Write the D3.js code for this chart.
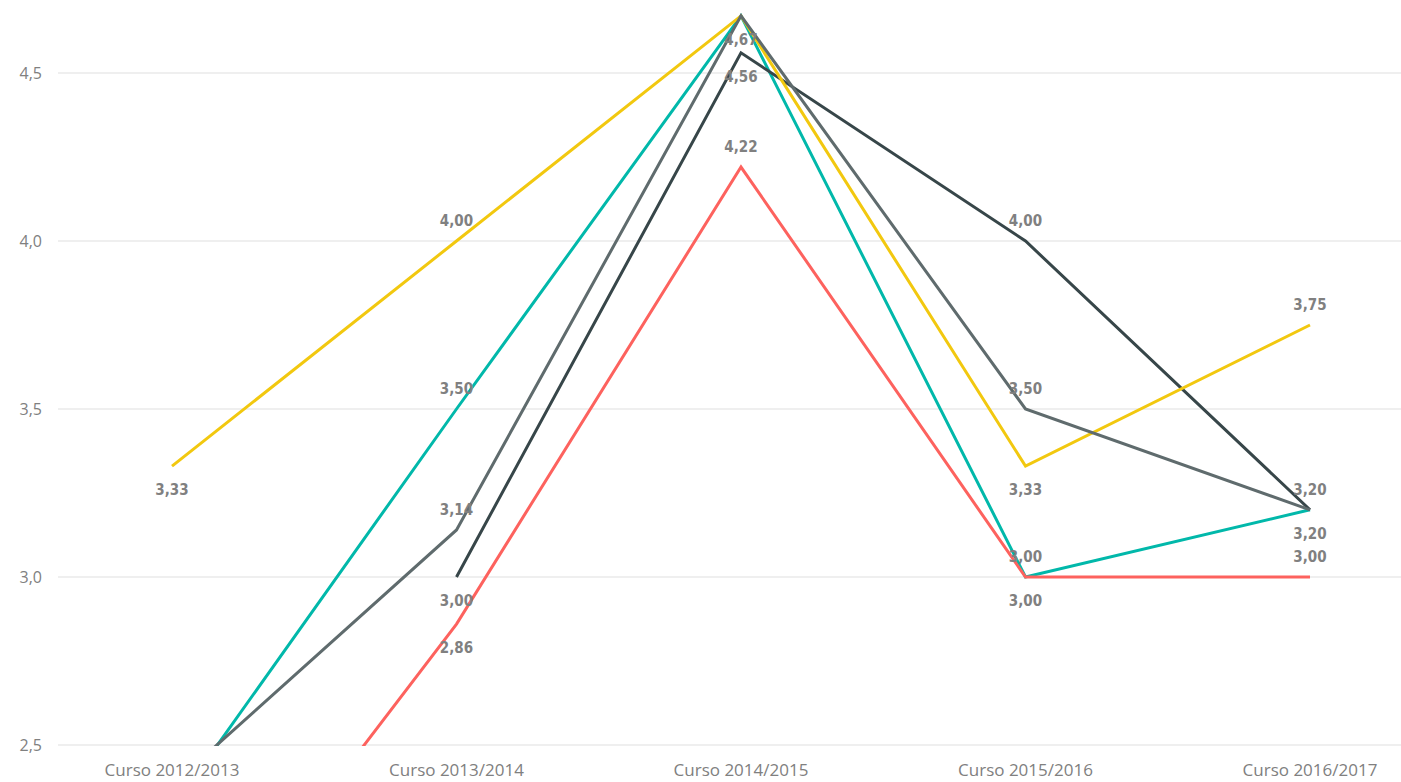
<!DOCTYPE html>
<html>
<head>
<meta charset="utf-8">
<script src="https://cdn.jsdelivr.net/npm/d3@7"></script>
<style>
  body { margin: 0; background: #fff; }
  svg { display: block; }
</style>
</head>
<body>
<svg id="chart" width="1401" height="782"></svg>
<script>
'use strict';

// categories on the x axis
var cursos = ["Curso 2012/2013", "Curso 2013/2014", "Curso 2014/2015", "Curso 2015/2016", "Curso 2016/2017"];
var yTicks = [2.5, 3.0, 3.5, 4.0, 4.5];

// series values (null = no value)
var teal   = [2.31, 3.50, 4.67, 3.00, 3.20];
var dark   = [null, 3.00, 4.56, 4.00, 3.20];
var red    = [1.75, 2.86, 4.22, 3.00, 3.00];
var yellow = [3.33, 4.00, 4.67, 3.33, 3.75];
var grey   = [2.38, 3.14, 4.67, 3.50, 3.20];

// where the data label sits: 1 above, -1 below, 0 hidden
var tealLabels   = [0, 1, 0, 1, -1];
var darkLabels   = [0, -1, -1, 1, 0];
var redLabels    = [0, -1, 1, -1, 1];
var yellowLabels = [-1, 1, -1, -1, 1];
var greyLabels   = [0, 1, 0, 1, 1];

var series = [
  { values: teal,   labels: tealLabels,   color: "#01B8AA" },
  { values: dark,   labels: darkLabels,   color: "#374649" },
  { values: red,    labels: redLabels,    color: "#FD625E" },
  { values: yellow, labels: yellowLabels, color: "#F2C80F" },
  { values: grey,   labels: greyLabels,   color: "#5F6B6D" }
];

var svg = d3.select("#chart");
var left = 58, right = 1401, bottom = 745;

var x = d3.scalePoint().domain(cursos).range([172, 1310]);
var y = d3.scaleLinear().domain([2.5, 4.5]).range([bottom, 73]);

var fmt = function(v) { return d3.format(".2f")(v).replace(".", ","); };

// gridlines + y labels
svg.append("g").selectAll("line").data(yTicks).join("line")
  .attr("x1", left).attr("x2", right)
  .attr("y1", d => y(d)).attr("y2", d => y(d))
  .attr("stroke", "#eaeaea").attr("stroke-width", 1.5);

svg.append("g").selectAll("text").data(yTicks).join("text")
  .attr("x", 42).attr("y", d => y(d))
  .attr("dy", "0.35em")
  .attr("text-anchor", "end")
  .attr("font-family", "'Open Sans', sans-serif")
  .attr("font-size", 16)
  .attr("fill", "#808080")
  .text(d => d3.format(".1f")(d).replace(".", ","));

// x labels
svg.append("g").selectAll("text").data(cursos).join("text")
  .attr("x", d => x(d)).attr("y", 770)
  .attr("dy", "0.35em")
  .attr("text-anchor", "middle")
  .attr("font-family", "'Open Sans', sans-serif")
  .attr("font-size", 17)
  .attr("fill", "#808080")
  .text(d => d);

svg.append("clipPath").attr("id", "plot")
  .append("rect").attr("x", left).attr("y", 0)
  .attr("width", right - left).attr("height", bottom + 1);

var line = d3.line()
  .defined(d => d != null)
  .x((d, i) => x(cursos[i]))
  .y(d => y(d));

var plot = svg.append("g").attr("clip-path", "url(#plot)");
for (const s of series) {
  plot.append("path")
    .datum(s.values)
    .attr("fill", "none")
    .attr("stroke", s.color)
    .attr("stroke-width", 3)
    .attr("stroke-linejoin", "miter")
    .attr("d", line);
}

// data labels
var lbl = svg.append("g").attr("clip-path", "url(#plot)");
for (const s of series) {
  s.values.forEach(function(v, i) {
    if (v == null || !s.labels[i]) return;
    lbl.append("text")
      .attr("x", x(cursos[i]))
      .attr("y", y(v) + (s.labels[i] > 0 ? -20 : 24))
      .attr("dy", "0.35em")
      .attr("text-anchor", "middle")
      .attr("font-family", "'DejaVu Sans Condensed', 'DejaVu Sans', sans-serif")
      .attr("font-weight", "bold")
      .attr("font-size", 15)
      .attr("fill", "#808080")
      .text(fmt(v));
  });
}
</script>
</body>
</html>
